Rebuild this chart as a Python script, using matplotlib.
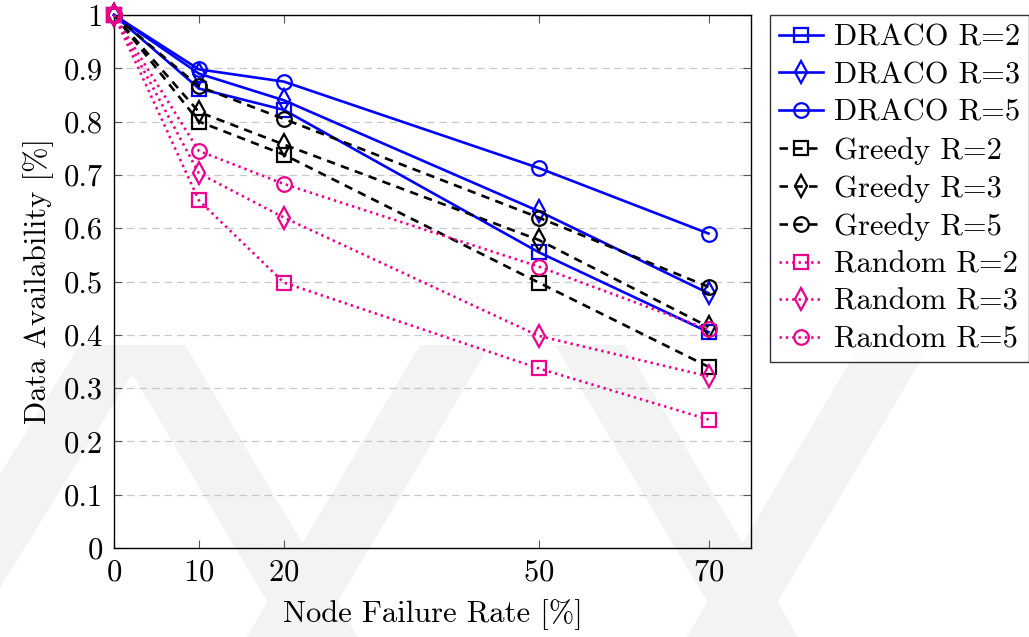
import matplotlib
matplotlib.use("Agg")
import matplotlib.pyplot as plt
from matplotlib.patches import Polygon
from matplotlib.ticker import FuncFormatter

plt.rcParams['font.family'] = ['cmr10', 'DejaVu Serif']
plt.rcParams['axes.formatter.use_mathtext'] = True
plt.rcParams['mathtext.fontset'] = 'cm'

# Node failure rates (%)
failure_rate = [0, 10, 20, 50, 70]

# Data availability per placement strategy and replication factor
draco_r2 = [1.0, 0.862, 0.822, 0.555, 0.405]
draco_r3 = [1.0, 0.890, 0.840, 0.632, 0.478]
draco_r5 = [1.0, 0.898, 0.875, 0.713, 0.590]
greedy_r2 = [1.0, 0.800, 0.738, 0.498, 0.340]
greedy_r3 = [1.0, 0.818, 0.757, 0.578, 0.415]
greedy_r5 = [1.0, 0.866, 0.805, 0.620, 0.490]
random_r2 = [1.0, 0.652, 0.498, 0.337, 0.241]
random_r3 = [1.0, 0.703, 0.620, 0.398, 0.322]
random_r5 = [1.0, 0.745, 0.683, 0.528, 0.410]

series_labels = ["DRACO R=2", "DRACO R=3", "DRACO R=5",
                 "Greedy R=2", "Greedy R=3", "Greedy R=5",
                 "Random R=2", "Random R=3", "Random R=5"]
series_values = [draco_r2, draco_r3, draco_r5,
                 greedy_r2, greedy_r3, greedy_r5,
                 random_r2, random_r3, random_r5]

x_ticks = [0, 10, 20, 50, 70]
y_ticks = [0, 0.1, 0.2, 0.3, 0.4, 0.5, 0.6, 0.7, 0.8, 0.9, 1.0]

BLUE = "#0000ff"
BLACK = "#000000"
PINK = "#ec008c"

styles = {
    "DRACO": dict(color=BLUE, linestyle="-"),
    "Greedy": dict(color=BLACK, dashes=(3.2, 2.4)),
    "Random": dict(color=PINK, dashes=(0.9, 1.5)),
}
markers = {"2": ("s", 10), "3": ("d", 11), "5": ("o", 10.5)}

FS = 22
W, H = 1029, 637
fig = plt.figure(figsize=(W / 100, H / 100), dpi=100)

# faint background watermark bands
def band(pts):
    return Polygon([(x / W, 1 - y / H) for x, y in pts], closed=True,
                   transform=fig.transFigure, facecolor="#f3f3f3",
                   edgecolor="none", zorder=0)

for pts in [
    [(115, 345), (185, 345), (360, 640), (290, 640)],
    [(420, 345), (490, 345), (315, 640), (245, 640)],
    [(555, 345), (625, 345), (800, 640), (730, 640)],
    [(860, 345), (930, 345), (755, 640), (685, 640)],
    [(80, 345), (150, 345), (-20, 620), (-90, 620)],
]:
    fig.patches.append(band(pts))

ax = fig.add_axes([114 / W, 1 - 548 / H, (751 - 114) / W, (548 - 15) / H])
ax.set_facecolor("none")
ax.set_zorder(2)

for label, values in zip(series_labels, series_values):
    group = label.split()[0]
    r = label[-1]
    m, ms = markers[r]
    ax.plot(failure_rate, values, label=label, marker=m, markersize=ms,
            markerfacecolor="none", markeredgewidth=1.6, linewidth=1.9,
            clip_on=False, zorder=3, **styles[group])

ax.set_xlim(0, 75)
ax.set_ylim(0, 1)
ax.set_xticks(x_ticks)
ax.set_yticks(y_ticks)
ax.yaxis.set_major_formatter(FuncFormatter(lambda v, p: "%g" % v))
ax.tick_params(direction="in", top=True, right=True, length=6,
               width=0.8, color="#555555", labelsize=FS, pad=8)
ax.grid(axis="y", color="#c8c8c8", linestyle=(0, (6, 4)), linewidth=0.9,
        zorder=1)
for s in ax.spines.values():
    s.set_linewidth(1.0)

ax.set_xlabel("Node Failure Rate [%]", fontsize=FS, labelpad=9)
ax.set_ylabel("Data Availability [%]", fontsize=FS, labelpad=7)

leg = ax.legend(loc="upper left", bbox_to_anchor=(770 / W, 1 - 15 / H),
                bbox_transform=fig.transFigure, fontsize=FS,
                frameon=True, fancybox=False, edgecolor="black",
                handlelength=1.45, handletextpad=0.33, borderpad=0.3,
                labelspacing=0.33, borderaxespad=0)
leg.get_frame().set_linewidth(1.0)

fig.savefig("out.png", dpi=100)
